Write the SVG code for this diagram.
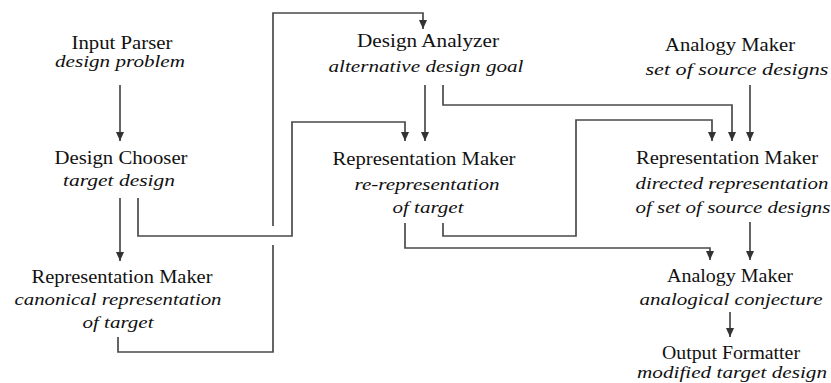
<svg xmlns="http://www.w3.org/2000/svg" width="831" height="383" viewBox="0 0 831 383">
<defs>
<marker id="ah" markerUnits="userSpaceOnUse" markerWidth="10" markerHeight="10" refX="9" refY="4" orient="auto">
<path d="M0,0 L9,4 L0,8 z" fill="#333"/>
</marker>
<style>
.t{font-family:"Liberation Serif","Times New Roman",serif;font-size:18px;fill:#111;text-anchor:middle}
.s{font-family:"Liberation Serif","Times New Roman",serif;font-size:17px;font-style:italic;fill:#111;text-anchor:middle}
.c{fill:none;stroke:#4a4a4a;stroke-width:1.7}
</style>
</defs>
<rect width="831" height="383" fill="#fff"/>
<g id="connectors">
<path class="c" d="M120,85 V141" marker-end="url(#ah)"/>
<path class="c" d="M120,198 V261" marker-end="url(#ah)"/>
<path class="c" d="M138,198 V236 H292 V122 H405 V141" marker-end="url(#ah)"/>
<path class="c" d="M118,337 V352 H273 V245 M273,226 V13 H423 V29" marker-end="url(#ah)"/>
<path class="c" d="M425,85 V141" marker-end="url(#ah)"/>
<path class="c" d="M443,85 V105 H732 V141" marker-end="url(#ah)"/>
<path class="c" d="M750,85 V141" marker-end="url(#ah)"/>
<path class="c" d="M443,223 V236 H576 V120 H712 V141" marker-end="url(#ah)"/>
<path class="c" d="M405,223 V248 H710 V260" marker-end="url(#ah)"/>
<path class="c" d="M750,222 V260" marker-end="url(#ah)"/>
<path class="c" d="M730,312 V337" marker-end="url(#ah)"/>
</g>
<g id="input-parser">
<text class="t" x="122" y="49" textLength="101" lengthAdjust="spacingAndGlyphs">Input Parser</text>
<text class="s" x="120" y="67" textLength="130" lengthAdjust="spacingAndGlyphs">design problem</text>
</g>
<g id="design-chooser">
<text class="t" x="121" y="164" textLength="133" lengthAdjust="spacingAndGlyphs">Design Chooser</text>
<text class="s" x="119" y="186" textLength="112" lengthAdjust="spacingAndGlyphs">target design</text>
</g>
<g id="rep-maker-canonical">
<text class="t" x="122" y="283" textLength="181" lengthAdjust="spacingAndGlyphs">Representation Maker</text>
<text class="s" x="118" y="305" textLength="207" lengthAdjust="spacingAndGlyphs">canonical representation</text>
<text class="s" x="118" y="328" textLength="71" lengthAdjust="spacingAndGlyphs">of target</text>
</g>
<g id="design-analyzer">
<text class="t" x="428" y="47" textLength="142" lengthAdjust="spacingAndGlyphs">Design Analyzer</text>
<text class="s" x="426" y="72" textLength="195" lengthAdjust="spacingAndGlyphs">alternative design goal</text>
</g>
<g id="rep-maker-re">
<text class="t" x="424" y="165" textLength="183" lengthAdjust="spacingAndGlyphs">Representation Maker</text>
<text class="s" x="427" y="190" textLength="145" lengthAdjust="spacingAndGlyphs">re-representation</text>
<text class="s" x="428" y="213" textLength="71" lengthAdjust="spacingAndGlyphs">of target</text>
</g>
<g id="analogy-maker-source">
<text class="t" x="730" y="51" textLength="130" lengthAdjust="spacingAndGlyphs">Analogy Maker</text>
<text class="s" x="737" y="75" textLength="183" lengthAdjust="spacingAndGlyphs">set of source designs</text>
</g>
<g id="rep-maker-directed">
<text class="t" x="727" y="164" textLength="182" lengthAdjust="spacingAndGlyphs">Representation Maker</text>
<text class="s" x="732" y="189" textLength="193" lengthAdjust="spacingAndGlyphs">directed representation</text>
<text class="s" x="733" y="213" textLength="195" lengthAdjust="spacingAndGlyphs">of set of source designs</text>
</g>
<g id="analogy-maker-conjecture">
<text class="t" x="730" y="282" textLength="126" lengthAdjust="spacingAndGlyphs">Analogy Maker</text>
<text class="s" x="731" y="305" textLength="183" lengthAdjust="spacingAndGlyphs">analogical conjecture</text>
</g>
<g id="output-formatter">
<text class="t" x="731" y="359" textLength="138" lengthAdjust="spacingAndGlyphs">Output Formatter</text>
<text class="s" x="732" y="378" textLength="190" lengthAdjust="spacingAndGlyphs">modified target design</text>
</g>
</svg>
